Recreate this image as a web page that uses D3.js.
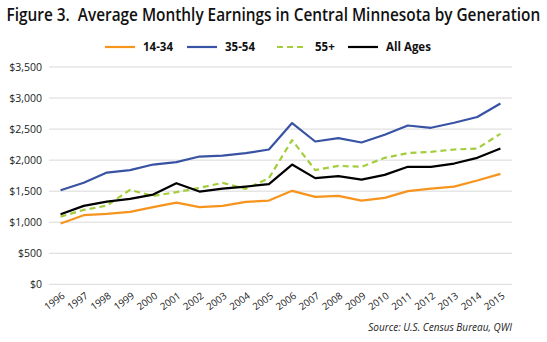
<!DOCTYPE html>
<html><head><meta charset="utf-8">
<script src="https://cdn.jsdelivr.net/npm/d3@7"></script>
<style>body{margin:0;background:#fff;} svg{display:block;font-family:"Open Sans","Noto Sans",sans-serif;}</style>
</head><body>
<svg id="chart" width="547" height="342"></svg>
<script>
const years = ["1996","1997","1998","1999","2000","2001","2002","2003","2004","2005","2006","2007","2008","2009","2010","2011","2012","2013","2014","2015"];
const age1434 = [978,1113,1134,1166,1242,1316,1242,1263,1328,1348,1505,1408,1424,1348,1392,1500,1542,1574,1671,1779];
const age3554 = [1515,1635,1800,1839,1929,1968,2058,2074,2113,2171,2597,2300,2355,2284,2408,2558,2521,2602,2694,2913];
const age55 = [1090,1198,1268,1521,1424,1484,1553,1634,1537,1710,2323,1839,1908,1892,2037,2113,2134,2171,2187,2424];
const allAges = [1129,1263,1332,1376,1445,1629,1494,1542,1574,1613,1929,1710,1742,1687,1763,1892,1892,1945,2037,2187];
const yTicks = [0,500,1000,1500,2000,2500,3000,3500];
const seriesNames = ["14-34","35-54","55+","All Ages"];
const colors = ["#F7941D","#3953A4","#A3CD3B","#000000"];

const series = [age1434, age3554, age55, allAges].map((v,i)=>({name:seriesNames[i], values:v, color:colors[i], dash: i===2 ? "6,4" : null}));

const svg = d3.select("#chart");
const m = {left:49, right:35, top:67, bottom:58};
const W = 547, H = 342;
const x = d3.scaleBand().domain(years).range([m.left, W-m.right]);
const y = d3.scaleLinear().domain([0,3500]).range([H-m.bottom+0.3, m.top]);

// title: scaled horizontally to fit width like the condensed original font
const title = svg.append("text").attr("x", 0).attr("y", 0).attr("text-anchor","start")
  .attr("font-size", 18).attr("font-weight", 600).attr("fill","#111")
  .style("white-space","pre")
  .text("Figure 3.  Average Monthly Earnings in Central Minnesota by Generation");
const natural = title.node().getComputedTextLength();
const targetW = 534;
const sx = targetW / natural;
title.attr("transform", `translate(${(W - targetW)/2},20.5) scale(${sx},1)`);

// gridlines
svg.append("g").selectAll("line").data(yTicks).join("line")
  .attr("x1", m.left).attr("x2", W-m.right)
  .attr("y1", d=>y(d)).attr("y2", d=>y(d))
  .attr("stroke", "#d9d9d9").attr("stroke-width", 1);

// y axis
const yAxis = d3.axisLeft(y).tickValues(yTicks).tickSize(0).tickPadding(7)
  .tickFormat(d=>"$"+d3.format(",")(d));
const gy = svg.append("g").attr("transform",`translate(${m.left},0)`).call(yAxis);
gy.select(".domain").remove();
gy.selectAll("text").attr("font-size", 10.5).attr("fill","#222").attr("font-family","'Open Sans',sans-serif");

// x axis
const xAxis = d3.axisBottom(x).tickSize(0).tickPadding(0);
const gx = svg.append("g").attr("transform",`translate(0,${y(0)})`).call(xAxis);
gx.select(".domain").remove();
gx.selectAll("text").attr("font-size", 9.8).attr("fill","#222").attr("font-family","'Open Sans',sans-serif")
  .attr("text-anchor","end").attr("dy", null)
  .attr("transform","translate(5,13) rotate(-36)");

// lines
const line = d3.line().x((d,i)=>x(years[i]) + x.bandwidth()/2).y(d=>y(d));
svg.append("g").selectAll("path").data(series).join("path")
  .attr("d", d=>line(d.values)).attr("fill","none")
  .attr("stroke", d=>d.color).attr("stroke-width", 2.2)
  .attr("stroke-dasharray", d=>d.dash)
  .attr("stroke-linejoin","round");

// legend
const legX = [105, 187, 277, 348];
const leg = svg.append("g");
series.forEach((s,i)=>{
  leg.append("line").attr("x1", legX[i]).attr("x2", legX[i]+ (i===2?26:30)).attr("y1",47).attr("y2",47)
    .attr("stroke", s.color).attr("stroke-width", 2.2).attr("stroke-dasharray", s.dash);
  leg.append("text").attr("x", legX[i] + 38).attr("y", 51).attr("font-size", 11.5)
    .attr("font-weight", 700).attr("fill","#111").text(s.name);
});

svg.append("text").attr("x", 512).attr("y", 331).attr("text-anchor","end")
  .attr("font-size", 10).attr("font-style","italic").attr("fill","#222")
  .text("Source: U.S. Census Bureau, QWI");
</script>
</body></html>
